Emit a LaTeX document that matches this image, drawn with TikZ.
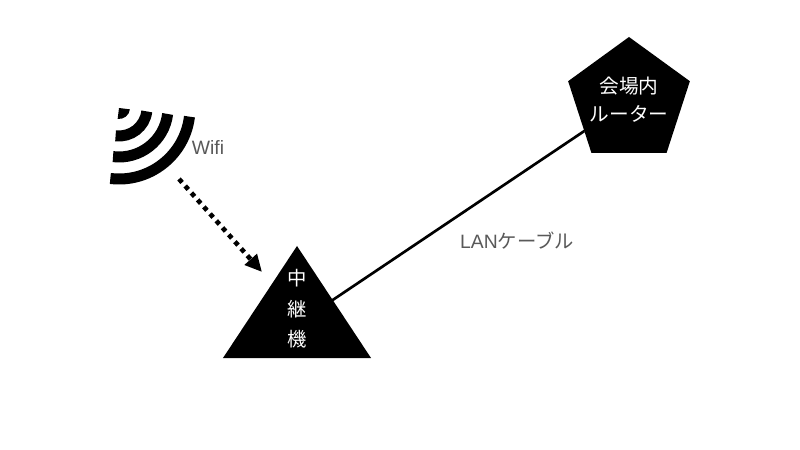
\documentclass[tikz,border=0pt]{standalone}
\usepackage{fontspec}
\setmainfont{Liberation Sans}
\newfontfamily\jpfont{Noto Sans CJK JP}
\usetikzlibrary{arrows.meta,shapes.geometric}

\begin{document}
\begin{tikzpicture}[x=0.03cm,y=0.03cm,
    device/.style={fill=black,text=white,inner sep=0pt,outer sep=0pt,align=center},
    wave/.style={line width=0.33cm,line cap=butt},
    caption/.style={text=black!65,font=\fontsize{16.5}{19}\selectfont}]
  \useasboundingbox (0,0) rectangle (800,450);
  \node[device,regular polygon,regular polygon sides=5,minimum size=3.84cm,inner sep=-14pt,
    font=\jpfont\fontsize{16.8}{24}\selectfont] (router) at (629,349)
    {\raisebox{3.4pt}{会場内}\\\raisebox{3.4pt}{ルーター}};
  % cable runs under the triangle
  \coordinate (relayhub) at (297,126);
  \draw[line width=0.08cm] (relayhub) -- (router);
  \node[device,isosceles triangle,shape border rotate=90,isosceles triangle apex angle=67,
    isosceles triangle stretches,minimum width=4.44cm,minimum height=3.36cm,anchor=apex,
    font=\jpfont\fontsize{16.5}{26}\selectfont] (relay) at (297,204)
    {\raisebox{5.5pt}{中}\\\raisebox{5.5pt}{継}\\\raisebox{5.5pt}{機}};
  % Wifi icon
  \coordinate (wifi) at (119,342);
  \fill (wifi) -- +(-7:11) arc[start angle=-7,end angle=-97,radius=11] -- cycle;
  \foreach \r in {28,49,71}
    \draw[wave] (wifi) ++(-7:\r) arc[start angle=-7,end angle=-97,radius=\r];
  \node[caption] (wifilabel) at (208,302) {Wifi};
  % dotted arrow down to the relay
  \coordinate (wifiout) at (179,271);
  \coordinate (relayin) at (262,178);
  \draw[line width=0.14cm,dash pattern=on 0.14cm off 0.14cm,
    -{Triangle[length=0.51cm,width=0.47cm]}] (wifiout) -- (relayin);
  \node[caption] (lanlabel) at (517,209) {LAN{\jpfont ケーブル}};
\end{tikzpicture}
\end{document}
